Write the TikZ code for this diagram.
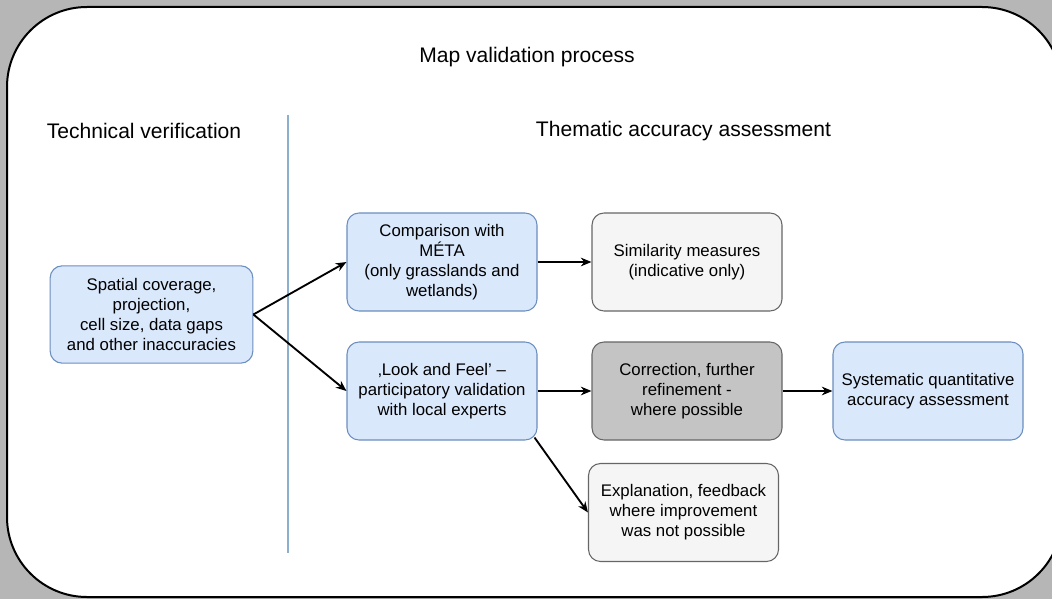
\documentclass[tikz,border=0pt]{standalone}
\usepackage{fontspec}
\setmainfont{Liberation Sans}
\usepackage{tikz}
\usetikzlibrary{arrows.meta, positioning}
\definecolor{bluefill}{RGB}{218,232,252}
\definecolor{blueline}{RGB}{108,142,191}
\definecolor{greyfill}{RGB}{245,245,245}
\definecolor{darkfill}{RGB}{196,196,196}
\definecolor{greyline}{RGB}{102,102,102}
\definecolor{backgrey}{RGB}{182,182,182}
\definecolor{splitline}{RGB}{140,175,205}
\tikzset{
    stagebox/.style={draw=blueline, fill=bluefill, rounded corners=9pt, line width=0.8pt,
        minimum width=142.5pt, minimum height=73.5pt, align=center, font=\fontsize{12.6}{15}\selectfont},
    resultbox/.style={stagebox, draw=greyline, fill=greyfill},
    fixbox/.style={stagebox, draw=greyline, fill=darkfill},
    heading/.style={font=\fontsize{15.8}{18}\selectfont},
    flow/.style={-{Stealth[length=8pt, width=6.5pt]}, line width=1.4pt, black},
}

\begin{document}
\begin{tikzpicture}[x=0.75pt, y=-0.75pt]
            \useasboundingbox (0, 0) rectangle (1052, 599);
            \fill[backgrey] (0, 0) rectangle (1052, 599);
            \begin{scope}
                \clip (0, 0) rectangle (1052, 599);
                \draw[fill=white, line width=1.5pt, rounded corners=60pt] (7, 7) rectangle (1062, 597);
            \end{scope}

            \draw[splitline, line width=1pt] (288, 115) -- (288, 553);

            \node[heading] (title) at (527, 57) {Map validation process};
            \node[heading] (tech) at (144, 131) {Technical verification};
            \node[heading] (thema) at (683.5, 131) {Thematic accuracy assessment};

            \node[stagebox, minimum width=152pt, minimum height=73pt] (spatial) at (151.5, 314.5)
                {Spatial coverage,\\projection,\\cell size, data gaps\\and other inaccuracies};
            \node[stagebox] (compare) at (442, 262) {Comparison with\\MÉTA\\(only grasslands and\\wetlands)};
            \node[resultbox] (similar) at (687, 262) {Similarity measures\\(indicative only)};
            \node[stagebox] (look) at (442, 391) {‚Look and Feel’ –\\participatory validation\\with local experts};
            \node[fixbox] (correct) at (687, 391) {Correction, further\\refinement -\\where possible};
            \node[stagebox] (system) at (928, 391) {Systematic quantitative\\accuracy assessment};
            \node[resultbox] (explain) at (683.5, 512.5) {Explanation, feedback\\where improvement\\was not possible};

            \draw[flow] (spatial.east) -- (compare.west);
            \draw[flow] (spatial.east) -- (look.west);
            \draw[flow] (compare) -- (similar);
            \draw[flow] (look) -- (correct);
            \draw[flow] (correct) -- (system);
            \draw[flow] (look.south east) ++(-3, -3) -- (explain.west);

        \end{tikzpicture}
\end{document}
